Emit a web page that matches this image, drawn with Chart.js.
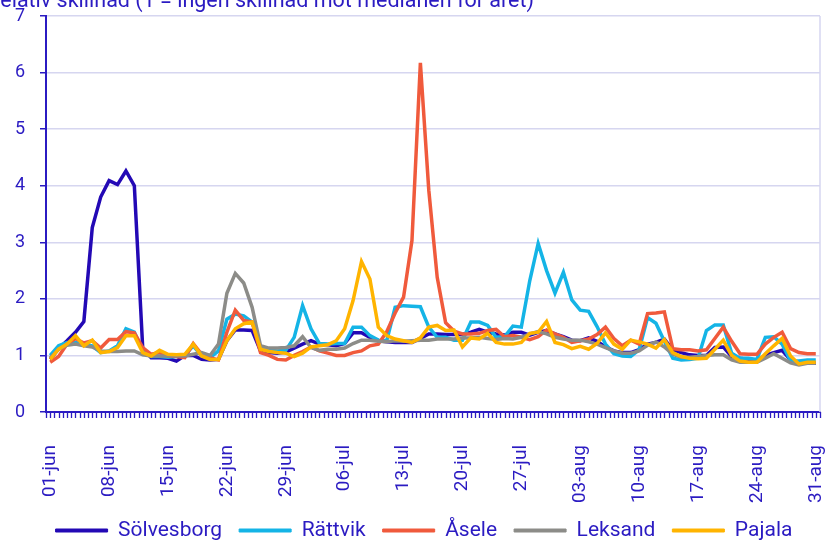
<!DOCTYPE html>
<html>
<head>
<meta charset="utf-8">
<script src="https://cdn.jsdelivr.net/npm/chart.js@4"></script>
<style>
  html, body { margin: 0; padding: 0; background: #fff; }
  #wrap { position: relative; width: 826px; height: 541px; overflow: hidden; }
  #title {
    position: absolute; left: -13px; top: -11px; white-space: nowrap;
    font-family: Roboto, sans-serif; font-size: 21.5px; line-height: 21.5px; color: #2b1bc2;
  }
</style>
</head>
<body>
<div id="wrap">
  <canvas id="chart" width="826" height="541"></canvas>
  <div id="title">Relativ skillnad (1 = ingen skillnad mot medianen för året)</div>
</div>
<script>
// Categories: every day 1 June - 31 August
const months = [['jun', 30], ['jul', 31], ['aug', 31]];
const days = [];
months.forEach(([m, n]) => {
  for (let d = 1; d <= n; d++) days.push(String(d).padStart(2, '0') + '-' + m);
});

const yTicks = [0, 1, 2, 3, 4, 5, 6, 7];

// Series values, one row per week
const solvesborg = [
  0.93, 1.12, 1.26, 1.41, 1.60, 3.26, 3.80,
  4.09, 4.02, 4.26, 4.00, 1.12, 0.96, 0.96,
  0.95, 0.90, 1.00, 1.00, 0.93, 0.92, 0.93,
  1.26, 1.45, 1.45, 1.44, 1.08, 1.05, 1.04,
  1.06, 1.13, 1.20, 1.26, 1.20, 1.19, 1.17,
  1.21, 1.40, 1.40, 1.32, 1.26, 1.24, 1.23,
  1.23, 1.23, 1.30, 1.38, 1.38, 1.37, 1.37,
  1.37, 1.41, 1.46, 1.41, 1.38, 1.36, 1.41,
  1.41, 1.36, 1.41, 1.44, 1.38, 1.33, 1.27,
  1.26, 1.31, 1.25, 1.15, 1.08, 1.05, 1.05,
  1.10, 1.20, 1.23, 1.29, 1.10, 1.05, 1.01,
  1.00, 1.00, 1.14, 1.15, 0.98, 0.95, 0.93,
  0.90, 1.00, 1.05, 1.09, 0.92, 0.86, 0.86,
  0.86
];
const rattvik = [
  1.00, 1.17, 1.23, 1.23, 1.20, 1.17, 1.05,
  1.08, 1.17, 1.47, 1.41, 1.08, 0.98, 0.98,
  0.97, 0.98, 1.00, 1.17, 0.99, 0.96, 1.08,
  1.64, 1.73, 1.70, 1.59, 1.14, 1.09, 1.08,
  1.09, 1.32, 1.88, 1.47, 1.21, 1.20, 1.21,
  1.21, 1.50, 1.50, 1.35, 1.27, 1.26, 1.85,
  1.88, 1.87, 1.86, 1.50, 1.32, 1.32, 1.27,
  1.27, 1.59, 1.59, 1.53, 1.32, 1.33, 1.52,
  1.50, 2.32, 2.98, 2.50, 2.10, 2.47, 1.98,
  1.80, 1.78, 1.51, 1.20, 1.03, 0.99, 0.98,
  1.10, 1.67, 1.57, 1.25, 0.95, 0.92, 0.93,
  0.95, 1.44, 1.54, 1.54, 1.04, 0.95, 0.95,
  0.93, 1.32, 1.33, 1.20, 0.90, 0.90, 0.92,
  0.92
];
const asele = [
  0.88, 0.98, 1.20, 1.30, 1.22, 1.26, 1.13,
  1.28, 1.28, 1.42, 1.40, 1.14, 1.02, 1.05,
  0.99, 0.98, 0.96, 1.21, 1.02, 0.96, 0.92,
  1.41, 1.80, 1.62, 1.59, 1.05, 1.00, 0.93,
  0.92, 1.00, 1.07, 1.15, 1.08, 1.04, 1.00,
  1.00, 1.05, 1.08, 1.17, 1.20, 1.42, 1.75,
  2.03, 3.03, 6.17, 3.92, 2.38, 1.58, 1.43,
  1.38, 1.38, 1.39, 1.44, 1.46, 1.33, 1.35,
  1.32, 1.28, 1.33, 1.45, 1.38, 1.32, 1.23,
  1.26, 1.29, 1.37, 1.50, 1.30, 1.17, 1.27,
  1.20, 1.74, 1.75, 1.77, 1.12, 1.10, 1.10,
  1.08, 1.10, 1.30, 1.50, 1.25, 1.03, 1.02,
  1.02, 1.20, 1.32, 1.41, 1.12, 1.05, 1.03,
  1.03
];
const leksand = [
  0.96, 1.11, 1.18, 1.20, 1.17, 1.15, 1.08,
  1.07, 1.07, 1.08, 1.08, 1.01, 0.99, 0.99,
  0.99, 0.99, 0.99, 1.02, 1.05, 1.00, 1.20,
  2.10, 2.45, 2.28, 1.85, 1.17, 1.13, 1.13,
  1.14, 1.17, 1.33, 1.14, 1.09, 1.11, 1.11,
  1.13, 1.21, 1.27, 1.27, 1.25, 1.24, 1.26,
  1.25, 1.26, 1.27, 1.27, 1.29, 1.29, 1.29,
  1.31, 1.31, 1.32, 1.30, 1.28, 1.30, 1.29,
  1.32, 1.38, 1.42, 1.38, 1.32, 1.29, 1.27,
  1.27, 1.24, 1.20, 1.14, 1.08, 1.04, 1.04,
  1.08, 1.18, 1.24, 1.15, 1.02, 0.97, 0.97,
  0.98, 1.00, 1.01, 1.01, 0.92, 0.88, 0.88,
  0.88, 0.95, 1.03, 0.95, 0.87, 0.83, 0.86,
  0.86
];
const pajala = [
  0.93, 1.11, 1.20, 1.35, 1.17, 1.27, 1.05,
  1.07, 1.14, 1.35, 1.35, 1.05, 0.99, 1.09,
  1.02, 1.01, 1.02, 1.20, 0.99, 0.93, 0.93,
  1.26, 1.47, 1.56, 1.59, 1.11, 1.07, 1.05,
  1.04, 0.98, 1.04, 1.15, 1.17, 1.19, 1.26,
  1.47, 1.97, 2.66, 2.35, 1.50, 1.35, 1.29,
  1.26, 1.23, 1.31, 1.50, 1.53, 1.44, 1.45,
  1.15, 1.31, 1.29, 1.39, 1.23, 1.20, 1.20,
  1.23, 1.39, 1.41, 1.60, 1.23, 1.19, 1.12,
  1.16, 1.11, 1.21, 1.40, 1.20, 1.11, 1.27,
  1.24, 1.20, 1.13, 1.28, 1.05, 0.98, 0.95,
  0.94, 0.95, 1.11, 1.27, 1.00, 0.90, 0.88,
  0.88, 1.03, 1.17, 1.30, 0.99, 0.85, 0.88,
  0.88
];

const seriesNames = ['Sölvesborg', 'Rättvik', 'Åsele', 'Leksand', 'Pajala'];
const seriesValues = [solvesborg, rattvik, asele, leksand, pajala];
const seriesColors = ['#2309b5', '#14b4e6', '#f05a3c', '#8c8c88', '#ffb400'];

const textColor = '#2b1bc2';
const gridColor = '#d6d6f0';
const font = 'Roboto, sans-serif';

// small ticks along the x axis, the light right border, legend nudged right
const axisExtras = {
  id: 'axisExtras',
  afterLayout(chart) {
    chart.legend.left += 14;
    chart.legend.right += 14;
  },
  afterDraw(chart) {
    const { ctx, chartArea } = chart;
    const xs = chart.scales.x;
    const step = (xs.getPixelForValue(1) - xs.getPixelForValue(0)) / 2;
    ctx.save();
    ctx.strokeStyle = gridColor;
    ctx.lineWidth = 1.5;
    ctx.beginPath();
    ctx.moveTo(chartArea.right, chartArea.top);
    ctx.lineTo(chartArea.right, chartArea.bottom);
    ctx.stroke();
    ctx.strokeStyle = textColor;
    ctx.lineWidth = 1.3;
    ctx.beginPath();
    for (let k = 0; k <= days.length * 2; k++) {
      const x = Math.round(chartArea.left + k * step) + 0.5;
      ctx.moveTo(x, chartArea.bottom);
      ctx.lineTo(x, chartArea.bottom + 6);
    }
    ctx.stroke();
    ctx.restore();
  }
};

new Chart(document.getElementById('chart'), {
  type: 'line',
  data: {
    labels: days,
    datasets: seriesNames.map((name, i) => ({
      label: name,
      data: seriesValues[i],
      borderColor: seriesColors[i],
      backgroundColor: seriesColors[i],
      borderWidth: 3.5,
      pointRadius: 0,
      tension: 0,
      order: seriesNames.length - i
    }))
  },
  options: {
    responsive: false,
    animation: false,
    layout: { padding: { top: 16, right: 6, left: 0, bottom: -10 } },
    plugins: {
      tooltip: { enabled: false },
      legend: {
        position: 'bottom',
        labels: {
          boxWidth: 52,
          boxHeight: 3,
          padding: 17,
          color: textColor,
          font: { family: font, size: 21 },
          sort: (a, b) => a.datasetIndex - b.datasetIndex,
          generateLabels: chart =>
            Chart.defaults.plugins.legend.labels.generateLabels(chart).map(l => ({ ...l, lineWidth: 1 }))
        }
      }
    },
    scales: {
      x: {
        type: 'category',
        offset: true,
        grid: { display: false, drawTicks: false },
        border: { display: true, color: textColor, width: 2 },
        ticks: {
          autoSkip: false,
          minRotation: 90,
          maxRotation: 90,
          padding: 33,
          color: textColor,
          font: { family: font, size: 19 },
          callback: (v, i) => (i % 7 === 0 ? days[i] : '')
        },
        afterFit(s) {
          s.height = 91;
          s.paddingLeft = 0;
          s.paddingRight = 0;
        }
      },
      y: {
        min: yTicks[0],
        max: yTicks[yTicks.length - 1],
        afterBuildTicks(s) {
          s.ticks = yTicks.map(v => ({ value: v }));
        },
        grid: { color: gridColor, lineWidth: 1.5, tickLength: 6, tickColor: textColor, tickWidth: 1.5 },
        border: { color: textColor, width: 2 },
        ticks: {
          padding: 15,
          color: textColor,
          font: { family: font, size: 18 }
        },
        afterFit(s) {
          s.width = 46;
          s.paddingTop = 0;
          s.paddingBottom = 0;
        }
      }
    }
  },
  plugins: [axisExtras]
});
</script>
</body>
</html>
